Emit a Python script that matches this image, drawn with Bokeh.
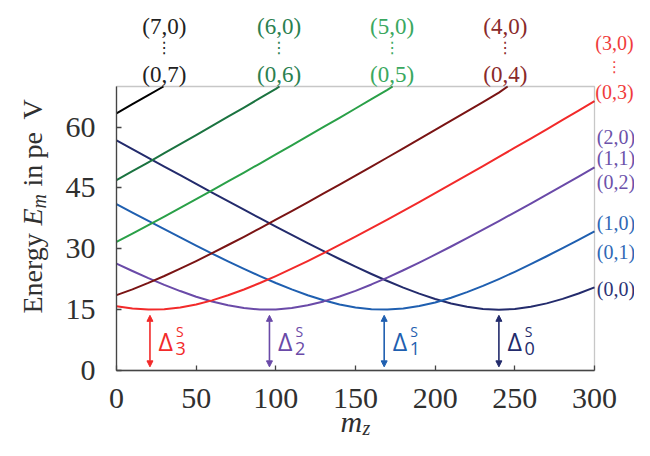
from bokeh.plotting import figure
from bokeh.models import Range1d, FixedTicker, Label, Arrow, NormalHead, BoxAnnotation
from bokeh.core.properties import value
from bokeh.embed import file_html
from bokeh.resources import INLINE

# ---------------- data ----------------
m_z = [0, 10, 20, 30, 40, 50, 60, 70, 80, 90, 100, 110, 120, 130, 140, 150,
       160, 170, 180, 190, 200, 210, 220, 230, 240, 250, 260, 270, 280, 290, 300]

# states (0,0) ... (0,3): full width
E_0 = [56.74, 54.59, 52.42, 50.28, 48.14, 45.99, 43.86, 41.75, 39.64, 37.55, 35.48,
       33.43, 31.41, 29.43, 27.48, 25.60, 23.78, 22.05, 20.42, 18.94, 17.62, 16.53,
       15.70, 15.18, 15.00, 15.18, 15.70, 16.54, 17.65, 18.99, 20.50]
E_1 = [41.03, 38.94, 36.86, 34.82, 32.79, 30.78, 28.83, 26.91, 25.05, 23.27, 21.57,
       19.99, 18.56, 17.31, 16.28, 15.53, 15.10, 15.01, 15.27, 15.88, 16.78, 17.94,
       19.31, 20.85, 22.54, 24.33, 26.20, 28.16, 30.17, 32.22, 34.32]
E_2 = [26.35, 24.52, 22.76, 21.11, 19.58, 18.19, 17.01, 16.06, 15.39, 15.04, 15.04,
       15.39, 16.07, 17.03, 18.23, 19.64, 21.21, 22.91, 24.71, 26.60, 28.54, 30.56,
       32.62, 34.70, 36.83, 38.99, 41.16, 43.37, 45.59, 47.81, 50.07]
E_3 = [15.85, 15.27, 15.01, 15.10, 15.52, 16.27, 17.29, 18.54, 19.97, 21.56, 23.28,
       25.09, 26.98, 28.94, 30.94, 32.99, 35.09, 37.20, 39.35, 41.53, 43.71, 45.93,
       48.16, 50.38, 52.64, 54.92, 57.18, 59.46, 61.77, 64.05, 66.37]
# states (0,4) ... (0,7): they leave through the top edge (E = 70) at m_exit
E_4 = [18.57, 20.00, 21.59, 23.29, 25.10, 26.98, 28.93, 30.93, 32.96, 35.04, 37.16,
       39.29, 41.45, 43.63, 45.82, 48.04, 50.28, 52.50, 54.76, 57.03, 59.29, 61.58,
       63.88, 66.16, 68.48]
E_5 = [31.70, 33.75, 35.82, 37.94, 40.08, 42.22, 44.40, 46.60, 48.80, 51.02, 53.26,
       55.49, 57.76, 60.03, 62.29, 64.58, 66.88, 69.16]
E_6 = [46.92, 49.13, 51.32, 53.56, 55.80, 58.03, 60.29, 62.56, 64.82, 67.11, 69.40]
E_7 = [63.36, 65.64, 67.89]
m_exit = [None, None, None, None, 245.5, 173.3, 102.3, 29.5]
E_exit = 70.0

curves = [E_0, E_1, E_2, E_3, E_4, E_5, E_6, E_7]
line_colors = ["#232b6c", "#1f5fb0", "#6a4aa8", "#f22a2a", "#7a1414", "#2aa048", "#1b7340", "#000000"]
label_colors = ["#2c3475", "#2f68b5", "#6c52aa", "#f03c3c", "#8a2a2a", "#3aa860", "#2a8050", "#222222"]

x_ticks = [0, 50, 100, 150, 200, 250, 300]
y_ticks = [0, 15, 30, 45, 60]
x_lim = (0, 300)
y_lim = (0, 70)

# gap arrows: position of the minimum and its energy gap
gap_m = [21, 96, 168, 240]
gap_E = [15, 15, 15, 15]
gap_index = ["3", "2", "1", "0"]
gap_colors = ["#f22a2a", "#6a4aa8", "#1f5fb0", "#232b6c"]

# states leaving through the top edge
top_m = [30, 102, 173, 244]
top_upper = ["(7,0)", "(6,0)", "(5,0)", "(4,0)"]
top_lower = ["(0,7)", "(0,6)", "(0,5)", "(0,4)"]
top_colors = [label_colors[7], label_colors[6], label_colors[5], label_colors[4]]

# states at the right edge
right_text = ["(2,0)", "(1,1)", "(0,2)", "(1,0)", "(0,1)", "(0,0)"]
right_E = [57.6, 52.3, 46.4, 36.4, 29.2, 20.0]
right_colors = [label_colors[2]] * 3 + [label_colors[1]] * 2 + [label_colors[0]]

# ---------------- figure ----------------
# the frame fills the canvas; the axes are pinned at m=0 / E=0 and bounded to the box
W, H = 634, 440
px_per_m = 478 / 300.0
px_per_E = 284 / 70.0
x0_px, y0_px = 116, 370
x_range = Range1d((0 - x0_px) / px_per_m, (W - x0_px) / px_per_m)
y_range = Range1d((y0_px - H) / px_per_E, y0_px / px_per_E)


def mx(px):
    return (px - x0_px) / px_per_m


def ey(py):
    return (y0_px - py) / px_per_E


p = figure(width=W, height=H, output_backend="svg", toolbar_location=None,
           x_range=x_range, y_range=y_range, min_border=0)
p.grid.visible = False
p.background_fill_color = "white"
p.border_fill_color = "white"
p.outline_line_color = None

for ax in (p.xaxis[0], p.yaxis[0]):
    ax.fixed_location = 0
    ax.axis_line_color = "#454545"
    ax.axis_line_width = 1.3
    ax.major_tick_line_color = "#454545"
    ax.major_tick_line_width = 1.3
    ax.major_tick_in = 5
    ax.major_tick_out = 0
    ax.minor_tick_line_color = None
    ax.major_label_text_font = "Liberation Serif"
    ax.major_label_text_font_size = "30px"
    ax.major_label_text_color = "#303030"
p.xaxis.bounds = x_lim
p.yaxis.bounds = y_lim
p.xaxis.ticker = FixedTicker(ticks=x_ticks)
p.yaxis.ticker = FixedTicker(ticks=y_ticks)
p.xaxis.major_label_standoff = 18
p.yaxis.major_label_standoff = 21

for vals, c, mexit in zip(curves, line_colors, m_exit):
    xs = m_z[:len(vals)]
    ys = list(vals)
    if mexit is not None:
        xs = xs + [mexit]
        ys = ys + [E_exit]
    p.line(xs, ys, line_color=c, line_width=2.0, line_join="round")

p.add_layout(BoxAnnotation(left=x_lim[0], right=x_lim[1], bottom=y_lim[0], top=y_lim[1],
                           fill_color=None, fill_alpha=0, line_color="#454545", line_width=1.3))

# gap arrows + Delta labels
for m, g, idx, c in zip(gap_m, gap_E, gap_index, gap_colors):
    p.add_layout(Arrow(start=NormalHead(size=6, fill_color=c, line_color=c, line_width=1),
                       end=NormalHead(size=6, fill_color=c, line_color=c, line_width=1),
                       x_start=m, y_start=0 + 0.9, x_end=m, y_end=g - 1.4,
                       line_color=c, line_width=1.6))
    p.text(x=[m + 5.4], y=[ey(340.5)], text=["Δ"], text_font=value("Open Sans"),
           text_font_size="25px", text_color=c, text_align="left", text_baseline="middle")
    p.text(x=[m + 16.0], y=[ey(347.5)], text=[idx], text_font=value("Open Sans"),
           text_font_size="18px", text_color=c, text_align="left", text_baseline="middle")
    p.text(x=[m + 16.3], y=[ey(331.0)], text=["S"], text_font=value("Open Sans"),
           text_font_size="14px", text_color=c, text_align="left", text_baseline="middle")


def lab(x, y, text, color, size, font="Liberation Serif", align="center",
        baseline="middle", angle=0.0, style="normal"):
    p.add_layout(Label(x=x, y=y, text=text, text_color=color, text_font=font,
                       text_font_size=size, text_align=align, text_baseline=baseline,
                       angle=angle, text_font_style=style))


# top state labels
for m, up, lo, c in zip(top_m, top_upper, top_lower, top_colors):
    lab(m, 84.8, up, c, "23px")
    lab(m, 79.6, "⋮", c, "16px", font="DejaVu Sans")
    lab(m, 73.0, lo, c, "23px")
# red family at the right top corner
lab(312.5, 80.6, "(3,0)", label_colors[3], "20px")
lab(312.5, 74.9, "⋮", label_colors[3], "15px", font="DejaVu Sans")
lab(312.5, 68.6, "(0,3)", label_colors[3], "20px")

for t, e, c in zip(right_text, right_E, right_colors):
    lab(301.4, e, t, c, "20px", align="left")

# y axis label: Energy E_m in pe V (rotated, reading upwards)
ang = 1.5708
ycol = "#303030"
yl_x = mx(32.0)
lab(yl_x, ey(313), "Energy", ycol, "28px", align="left", angle=ang)
lab(yl_x, ey(225), "E", ycol, "28px", align="left", angle=ang, style="italic")
lab(mx(38.0), ey(208), "m", ycol, "20px", align="left", angle=ang, style="italic")
lab(yl_x, ey(186), "in", ycol, "28px", align="left", angle=ang)
lab(yl_x, ey(158), "pe", ycol, "28px", align="left", angle=ang)
lab(yl_x, ey(119), "V", ycol, "28px", align="left", angle=ang)

# x axis label: m_z
lab(mx(340), ey(421.0), "m", ycol, "30px", align="left", style="italic")
lab(mx(362), ey(427.0), "z", ycol, "20px", align="left", style="italic")

open("out.html", "w").write(file_html(p, INLINE))
